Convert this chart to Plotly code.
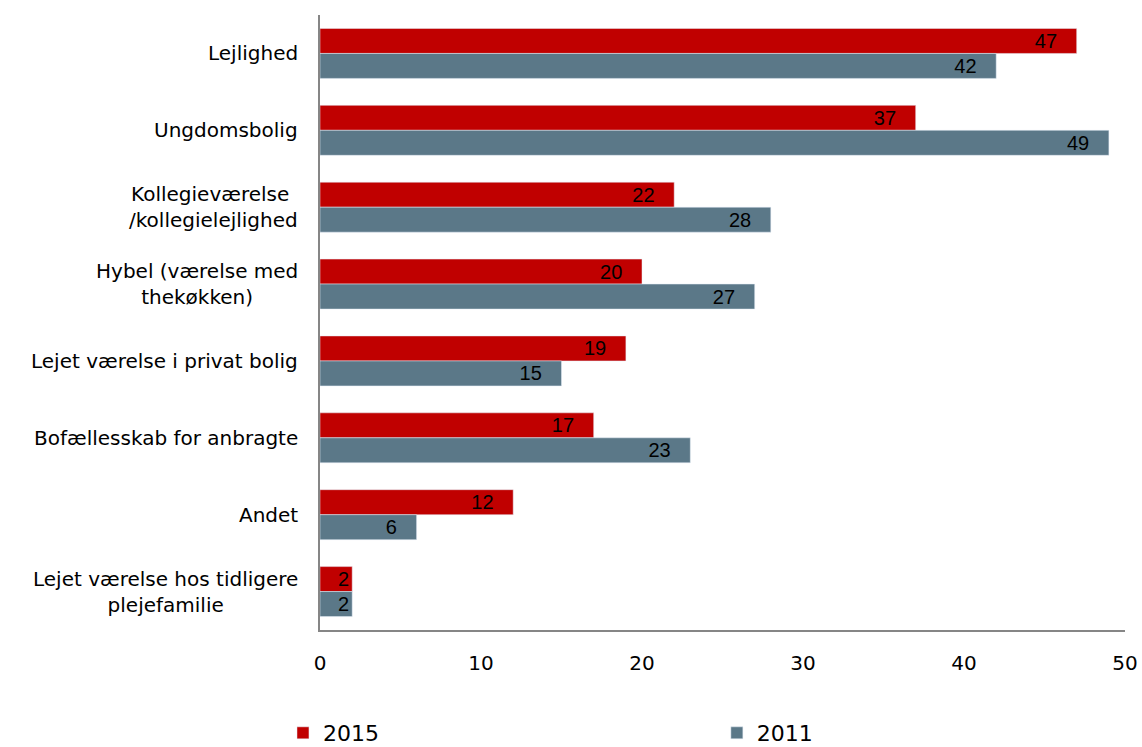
import plotly.graph_objects as go

# Data
categories = [
    "Lejlighed",
    "Ungdomsbolig",
    "Kollegieværelse <br>/kollegielejlighed",
    "Hybel (værelse med<br>thekøkken)",
    "Lejet værelse i privat bolig",
    "Bofællesskab for anbragte",
    "Andet",
    "Lejet værelse hos tidligere<br>plejefamilie",
]
values_2015 = [47, 37, 22, 20, 19, 17, 12, 2]
values_2011 = [42, 49, 28, 27, 15, 23, 6, 2]
x_ticks = [0, 10, 20, 30, 40, 50]

RED = "#C00000"
BLUE = "#5B7888"


def labels(vals):
    # pad with non-breaking spaces so the numbers sit a bit in from the bar end
    return [f"{v}\u00a0\u00a0\u00a0" if v > 5 else str(v) for v in vals]


fig = go.Figure()
fig.add_trace(go.Bar(y=categories, x=values_2015, name="2015", orientation="h",
                     marker_color=RED, text=labels(values_2015), legend="legend"))
fig.add_trace(go.Bar(y=categories, x=values_2011, name="2011", orientation="h",
                     marker_color=BLUE, text=labels(values_2011), legend="legend2"))

fig.update_traces(textposition="inside", insidetextanchor="end", textangle=0,
                  constraintext="none",
                  textfont=dict(family="Liberation Sans, Arial", size=20, color="black"))

# category labels as annotations so multi-line labels can be centred
for c in categories:
    fig.add_annotation(x=0, xref="paper", y=c, yref="y", text=c, showarrow=False,
                       xanchor="right", xshift=-20, align="center",
                       font=dict(family="DejaVu Sans, Verdana", size=20, color="black"))

legend_font = dict(family="DejaVu Sans, Verdana", size=22, color="black")
fig.update_layout(
    width=1142, height=747,
    margin=dict(l=320, r=17, t=15, b=117, autoexpand=False),
    plot_bgcolor="white", paper_bgcolor="white",
    barmode="group", bargap=0.35, bargroupgap=0,
    font=dict(family="DejaVu Sans, Verdana", color="black"),
    legend=dict(orientation="h", x=-0.046, xanchor="left", y=-0.1675, yanchor="middle",
                font=legend_font, bgcolor="rgba(0,0,0,0)"),
    legend2=dict(orientation="h", x=0.493, xanchor="left", y=-0.1675, yanchor="middle",
                 font=legend_font, bgcolor="rgba(0,0,0,0)"),
    showlegend=True,
)
fig.update_xaxes(range=[0, 50], tickvals=x_ticks, showgrid=False, zeroline=False,
                 showline=True, linecolor="#868686", linewidth=1.5, ticks="",
                 ticklabelstandoff=14,
                 tickfont=dict(family="DejaVu Sans, Verdana", size=20, color="black"))
fig.update_yaxes(autorange="reversed", showticklabels=False, showgrid=False,
                 showline=True, linecolor="#868686", linewidth=1.5, ticks="")

# drop the default page margin so the figure fills the window
fig.write_html("out.html", config={"displayModeBar": False},
               post_script="document.body.style.margin='0';")
